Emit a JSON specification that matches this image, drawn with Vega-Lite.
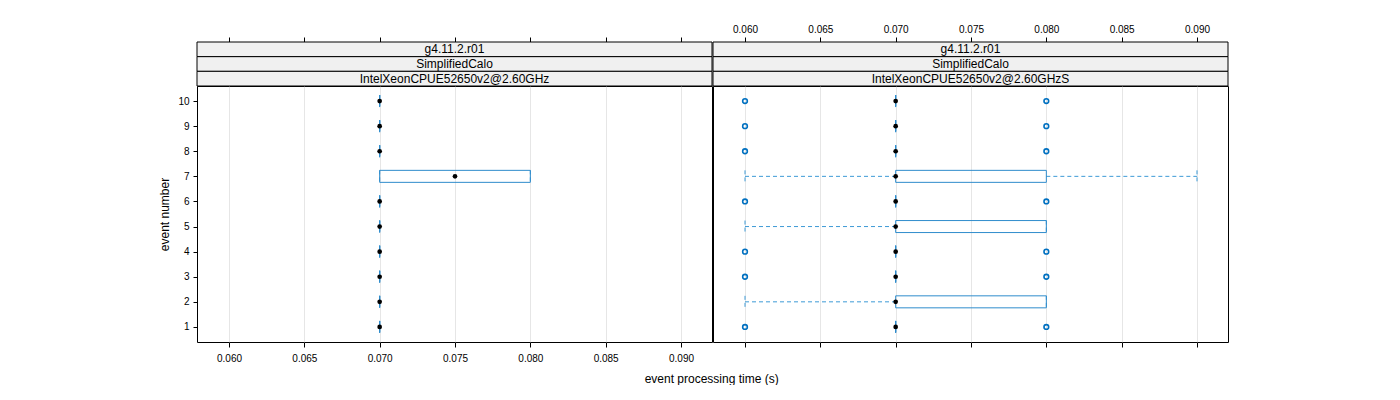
{
  "$schema": "https://vega.github.io/schema/vega-lite/v6.json",
  "padding": {"left": 158, "top": 23, "right": 0, "bottom": 0},
  "background": "white",
  "config": {
    "font": "Liberation Sans",
    "view": {"stroke": "black", "strokeWidth": 1},
    "axis": {"domain": false, "tickColor": "black", "tickSize": 5, "labelFontSize": 10, "labelColor": "black", "titleFontSize": 12, "titleFontWeight": "normal", "titleColor": "black", "gridColor": "#e6e6e6", "gridWidth": 1}
  },
  "title": {"text": "event processing time (s)", "orient": "bottom", "anchor": "middle", "fontSize": 12, "fontWeight": "normal", "color": "black", "offset": 10, "dx": 18},
  "datasets": {
    "stats": [
      {"panel": "L", "event": 1, "lo": 0.07, "q1": 0.07, "med": 0.07, "q3": 0.07, "hi": 0.07},
      {"panel": "L", "event": 2, "lo": 0.07, "q1": 0.07, "med": 0.07, "q3": 0.07, "hi": 0.07},
      {"panel": "L", "event": 3, "lo": 0.07, "q1": 0.07, "med": 0.07, "q3": 0.07, "hi": 0.07},
      {"panel": "L", "event": 4, "lo": 0.07, "q1": 0.07, "med": 0.07, "q3": 0.07, "hi": 0.07},
      {"panel": "L", "event": 5, "lo": 0.07, "q1": 0.07, "med": 0.07, "q3": 0.07, "hi": 0.07},
      {"panel": "L", "event": 6, "lo": 0.07, "q1": 0.07, "med": 0.07, "q3": 0.07, "hi": 0.07},
      {"panel": "L", "event": 7, "lo": 0.07, "q1": 0.07, "med": 0.075, "q3": 0.08, "hi": 0.08},
      {"panel": "L", "event": 8, "lo": 0.07, "q1": 0.07, "med": 0.07, "q3": 0.07, "hi": 0.07},
      {"panel": "L", "event": 9, "lo": 0.07, "q1": 0.07, "med": 0.07, "q3": 0.07, "hi": 0.07},
      {"panel": "L", "event": 10, "lo": 0.07, "q1": 0.07, "med": 0.07, "q3": 0.07, "hi": 0.07},
      {"panel": "R", "event": 1, "lo": 0.07, "q1": 0.07, "med": 0.07, "q3": 0.07, "hi": 0.07},
      {"panel": "R", "event": 2, "lo": 0.06, "q1": 0.07, "med": 0.07, "q3": 0.08, "hi": 0.08},
      {"panel": "R", "event": 3, "lo": 0.07, "q1": 0.07, "med": 0.07, "q3": 0.07, "hi": 0.07},
      {"panel": "R", "event": 4, "lo": 0.07, "q1": 0.07, "med": 0.07, "q3": 0.07, "hi": 0.07},
      {"panel": "R", "event": 5, "lo": 0.06, "q1": 0.07, "med": 0.07, "q3": 0.08, "hi": 0.08},
      {"panel": "R", "event": 6, "lo": 0.07, "q1": 0.07, "med": 0.07, "q3": 0.07, "hi": 0.07},
      {"panel": "R", "event": 7, "lo": 0.06, "q1": 0.07, "med": 0.07, "q3": 0.08, "hi": 0.09},
      {"panel": "R", "event": 8, "lo": 0.07, "q1": 0.07, "med": 0.07, "q3": 0.07, "hi": 0.07},
      {"panel": "R", "event": 9, "lo": 0.07, "q1": 0.07, "med": 0.07, "q3": 0.07, "hi": 0.07},
      {"panel": "R", "event": 10, "lo": 0.07, "q1": 0.07, "med": 0.07, "q3": 0.07, "hi": 0.07}
    ],
    "outliers": [
      {"panel": "R", "event": 1, "value": 0.06}, {"panel": "R", "event": 1, "value": 0.08},
      {"panel": "R", "event": 3, "value": 0.06}, {"panel": "R", "event": 3, "value": 0.08},
      {"panel": "R", "event": 4, "value": 0.06}, {"panel": "R", "event": 4, "value": 0.08},
      {"panel": "R", "event": 6, "value": 0.06}, {"panel": "R", "event": 6, "value": 0.08},
      {"panel": "R", "event": 8, "value": 0.06}, {"panel": "R", "event": 8, "value": 0.08},
      {"panel": "R", "event": 9, "value": 0.06}, {"panel": "R", "event": 9, "value": 0.08},
      {"panel": "R", "event": 10, "value": 0.06}, {"panel": "R", "event": 10, "value": 0.08}
    ],
    "strips": [
      {"panel": "L", "row": 1, "label": "g4.11.2.r01"},
      {"panel": "L", "row": 2, "label": "SimplifiedCalo"},
      {"panel": "L", "row": 3, "label": "IntelXeonCPUE52650v2@2.60GHz"},
      {"panel": "R", "row": 1, "label": "g4.11.2.r01"},
      {"panel": "R", "row": 2, "label": "SimplifiedCalo"},
      {"panel": "R", "row": 3, "label": "IntelXeonCPUE52650v2@2.60GHzS"}
    ]
  },
  "spacing": -1,
  "hconcat": [
    {
      "width": 515, "height": 256,
      "resolve": {"scale": {"y": "independent"}, "axis": {"x": "independent", "y": "independent"}},
      "layer": [
        {
          "data": {"name": "stats"}, "transform": [{"filter": "datum.panel == 'L'"}],
          "mark": {"type": "rule", "color": "#3d9ad6", "strokeDash": [4, 3], "strokeWidth": 1},
          "encoding": {
            "x": {"field": "lo", "type": "quantitative", "scale": {"domain": [0.057876, 0.092058], "nice": false, "zero": false},
                  "axis": {"orient": "bottom", "values": [0.06, 0.065, 0.07, 0.075, 0.08, 0.085, 0.09], "format": ".3f", "grid": true, "title": null, "labelPadding": 6}},
            "x2": {"field": "q1"},
            "y": {"field": "event", "type": "quantitative", "scale": {"domain": [0.4, 10.6], "nice": false, "zero": false},
                  "axis": {"values": [1, 2, 3, 4, 5, 6, 7, 8, 9, 10], "grid": false, "title": "event number", "titlePadding": 6, "labelPadding": 4, "tickSize": 4}}
          }
        },
        {
          "data": {"name": "stats"}, "transform": [{"filter": "datum.panel == 'L'"}],
          "mark": {"type": "rule", "color": "#3d9ad6", "strokeDash": [4, 3], "strokeWidth": 1},
          "encoding": {
            "x": {"field": "q3", "type": "quantitative",
                  "axis": {"orient": "top", "offset": 44, "values": [0.06, 0.065, 0.07, 0.075, 0.08, 0.085, 0.09], "grid": false, "labels": false, "title": null}},
            "x2": {"field": "hi"},
            "y": {"field": "event", "type": "quantitative", "scale": {"domain": [0.4, 10.6], "nice": false, "zero": false}, "axis": null}
          }
        },
        {
          "data": {"name": "stats"}, "transform": [{"filter": "datum.panel == 'L'"}],
          "mark": {"type": "rule", "color": "#3d9ad6", "strokeDash": [4, 3], "strokeWidth": 1, "yOffset": -6, "y2Offset": 6},
          "encoding": {
            "x": {"field": "lo", "type": "quantitative", "axis": null},
            "y": {"field": "event", "type": "quantitative", "scale": {"domain": [0.4, 10.6], "nice": false, "zero": false}, "axis": null},
            "y2": {"field": "event"}
          }
        },
        {
          "data": {"name": "stats"}, "transform": [{"filter": "datum.panel == 'L'"}],
          "mark": {"type": "rule", "color": "#3d9ad6", "strokeDash": [4, 3], "strokeWidth": 1, "yOffset": -6, "y2Offset": 6},
          "encoding": {
            "x": {"field": "hi", "type": "quantitative", "axis": null},
            "y": {"field": "event", "type": "quantitative", "scale": {"domain": [0.4, 10.6], "nice": false, "zero": false}, "axis": null},
            "y2": {"field": "event"}
          }
        },
        {
          "data": {"name": "stats"}, "transform": [{"filter": "datum.panel == 'L'"}],
          "mark": {"type": "rect", "fill": null, "fillOpacity": 0, "stroke": "#2f8ccc", "strokeWidth": 1, "yOffset": -6, "y2Offset": 6},
          "encoding": {
            "x": {"field": "q1", "type": "quantitative", "axis": null},
            "x2": {"field": "q3"},
            "y": {"field": "event", "type": "quantitative", "scale": {"domain": [0.4, 10.6], "nice": false, "zero": false}, "axis": null},
            "y2": {"field": "event"}
          }
        },
        {
          "data": {"name": "stats"}, "transform": [{"filter": "datum.panel == 'L'"}],
          "mark": {"type": "point", "filled": true, "color": "black", "opacity": 1, "size": 22},
          "encoding": {
            "x": {"field": "med", "type": "quantitative", "axis": null},
            "y": {"field": "event", "type": "quantitative", "scale": {"domain": [0.4, 10.6], "nice": false, "zero": false}, "axis": null}
          }
        },
        {
          "data": {"name": "strips"}, "transform": [{"filter": "datum.panel == 'L'"}],
          "mark": {"type": "rect", "fill": "#f0f0f0", "stroke": "black", "strokeWidth": 1},
          "encoding": {
            "y": {"field": "row", "type": "ordinal", "scale": {"range": [-44, 0], "paddingInner": 0, "paddingOuter": 0}, "axis": null}
          }
        },
        {
          "data": {"name": "strips"}, "transform": [{"filter": "datum.panel == 'L'"}],
          "mark": {"type": "text", "fontSize": 12, "color": "black", "baseline": "middle"},
          "encoding": {
            "y": {"field": "row", "type": "ordinal", "scale": {"range": [-44, 0], "paddingInner": 0, "paddingOuter": 0}, "axis": null},
            "text": {"field": "label"}
          }
        }
      ]
    },
    {
      "width": 515, "height": 256,
      "resolve": {"scale": {"y": "independent"}, "axis": {"x": "independent", "y": "independent"}},
      "layer": [
        {
          "data": {"name": "stats"}, "transform": [{"filter": "datum.panel == 'R'"}],
          "mark": {"type": "rule", "color": "#3d9ad6", "strokeDash": [4, 3], "strokeWidth": 1},
          "encoding": {
            "x": {"field": "lo", "type": "quantitative", "scale": {"domain": [0.057876, 0.092058], "nice": false, "zero": false},
                  "axis": {"orient": "bottom", "values": [0.06, 0.065, 0.07, 0.075, 0.08, 0.085, 0.09], "grid": true, "labels": false, "title": null}},
            "x2": {"field": "q1"},
            "y": {"field": "event", "type": "quantitative", "scale": {"domain": [0.4, 10.6], "nice": false, "zero": false}, "axis": null}
          }
        },
        {
          "data": {"name": "stats"}, "transform": [{"filter": "datum.panel == 'R'"}],
          "mark": {"type": "rule", "color": "#3d9ad6", "strokeDash": [4, 3], "strokeWidth": 1},
          "encoding": {
            "x": {"field": "q3", "type": "quantitative",
                  "axis": {"orient": "top", "offset": 44, "values": [0.06, 0.065, 0.07, 0.075, 0.08, 0.085, 0.09], "format": ".3f", "grid": false, "title": null, "labelPadding": 3}},
            "x2": {"field": "hi"},
            "y": {"field": "event", "type": "quantitative", "scale": {"domain": [0.4, 10.6], "nice": false, "zero": false}, "axis": null}
          }
        },
        {
          "data": {"name": "stats"}, "transform": [{"filter": "datum.panel == 'R'"}],
          "mark": {"type": "rule", "color": "#3d9ad6", "strokeDash": [4, 3], "strokeWidth": 1, "yOffset": -6, "y2Offset": 6},
          "encoding": {
            "x": {"field": "lo", "type": "quantitative", "axis": null},
            "y": {"field": "event", "type": "quantitative", "scale": {"domain": [0.4, 10.6], "nice": false, "zero": false}, "axis": null},
            "y2": {"field": "event"}
          }
        },
        {
          "data": {"name": "stats"}, "transform": [{"filter": "datum.panel == 'R'"}],
          "mark": {"type": "rule", "color": "#3d9ad6", "strokeDash": [4, 3], "strokeWidth": 1, "yOffset": -6, "y2Offset": 6},
          "encoding": {
            "x": {"field": "hi", "type": "quantitative", "axis": null},
            "y": {"field": "event", "type": "quantitative", "scale": {"domain": [0.4, 10.6], "nice": false, "zero": false}, "axis": null},
            "y2": {"field": "event"}
          }
        },
        {
          "data": {"name": "stats"}, "transform": [{"filter": "datum.panel == 'R'"}],
          "mark": {"type": "rect", "fill": null, "fillOpacity": 0, "stroke": "#2f8ccc", "strokeWidth": 1, "yOffset": -6, "y2Offset": 6},
          "encoding": {
            "x": {"field": "q1", "type": "quantitative", "axis": null},
            "x2": {"field": "q3"},
            "y": {"field": "event", "type": "quantitative", "scale": {"domain": [0.4, 10.6], "nice": false, "zero": false}, "axis": null},
            "y2": {"field": "event"}
          }
        },
        {
          "data": {"name": "outliers"}, "transform": [{"filter": "datum.panel == 'R'"}],
          "mark": {"type": "point", "filled": false, "color": "#0070c0", "opacity": 1, "size": 22, "strokeWidth": 1.6},
          "encoding": {
            "x": {"field": "value", "type": "quantitative", "axis": null},
            "y": {"field": "event", "type": "quantitative", "scale": {"domain": [0.4, 10.6], "nice": false, "zero": false}, "axis": null}
          }
        },
        {
          "data": {"name": "stats"}, "transform": [{"filter": "datum.panel == 'R'"}],
          "mark": {"type": "point", "filled": true, "color": "black", "opacity": 1, "size": 22},
          "encoding": {
            "x": {"field": "med", "type": "quantitative", "axis": null},
            "y": {"field": "event", "type": "quantitative", "scale": {"domain": [0.4, 10.6], "nice": false, "zero": false}, "axis": null}
          }
        },
        {
          "data": {"name": "strips"}, "transform": [{"filter": "datum.panel == 'R'"}],
          "mark": {"type": "rect", "fill": "#f0f0f0", "stroke": "black", "strokeWidth": 1},
          "encoding": {
            "y": {"field": "row", "type": "ordinal", "scale": {"range": [-44, 0], "paddingInner": 0, "paddingOuter": 0}, "axis": null}
          }
        },
        {
          "data": {"name": "strips"}, "transform": [{"filter": "datum.panel == 'R'"}],
          "mark": {"type": "text", "fontSize": 12, "color": "black", "baseline": "middle"},
          "encoding": {
            "y": {"field": "row", "type": "ordinal", "scale": {"range": [-44, 0], "paddingInner": 0, "paddingOuter": 0}, "axis": null},
            "text": {"field": "label"}
          }
        }
      ]
    }
  ]
}
